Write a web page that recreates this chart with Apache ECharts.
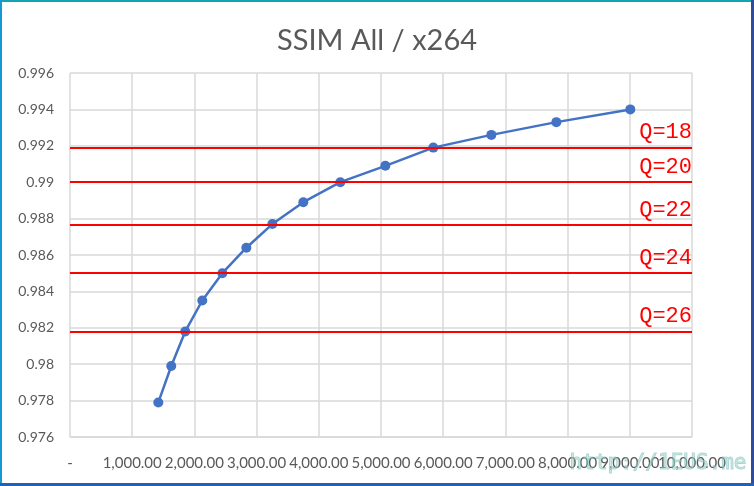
<!DOCTYPE html>
<html>
<head>
<meta charset="utf-8">
<script src="https://cdn.jsdelivr.net/npm/echarts@6/dist/echarts.min.js"></script>
<style>
html,body{margin:0;padding:0;background:#fff;}
#c{width:754px;height:486px;}
</style>
</head>
<body>
<div id="c"></div>
<script>
// Data
var bitrate = [1420, 1628, 1853, 2127, 2449, 2835, 3253, 3751, 4346, 5070, 5841, 6774, 7819, 9008];
var ssim = [0.9779, 0.9799, 0.9818, 0.9835, 0.9850, 0.9864, 0.9877, 0.9889, 0.9900, 0.9909, 0.9919, 0.9926, 0.9933, 0.9940];
var qLabels = ['Q=18', 'Q=20', 'Q=22', 'Q=24', 'Q=26'];
var qValues = [0.9919, 0.9900, 0.98765, 0.9850, 0.9818];
var titleText = 'SSIM All / x264';
var watermark = 'http://1EUS.me';

var pts = bitrate.map(function (b, i) { return [b, ssim[i]]; });
var chart = echarts.init(document.getElementById('c'));
var gray = '#595959';
var grid = '#d9d9d9';

function fmtX(v) {
  if (v === 0) return '-';
  return v.toLocaleString('en-US', { minimumFractionDigits: 2, maximumFractionDigits: 2 });
}
var xLabelStyle = { margin: 19, color: gray, fontFamily: 'Lato', fontSize: 15, hideOverlap: false };

chart.setOption({
  animation: false,
  backgroundColor: '#fff',
  title: {
    text: titleText, left: 'center', top: 21,
    textStyle: { fontFamily: 'Lato', fontWeight: 'normal', fontSize: 29, color: gray }
  },
  grid: { left: 70, right: 62, top: 73, bottom: 49 },
  xAxis: [{
    type: 'value', min: 0, max: 10000, interval: 1000, position: 'bottom',
    axisLine: { show: true, lineStyle: { color: grid, width: 1.5 } },
    axisTick: { show: false },
    splitLine: { show: true, lineStyle: { color: grid, width: 1.5 } },
    axisLabel: Object.assign({}, xLabelStyle, {
      showMinLabel: true, showMaxLabel: true,
      formatter: function (v) { return v === 9000 ? '' : fmtX(v); }
    })
  }, {
    type: 'value', min: 0, max: 10000, interval: 1000, position: 'bottom', offset: 0,
    axisLine: { show: false }, axisTick: { show: false }, splitLine: { show: false },
    axisLabel: Object.assign({}, xLabelStyle, {
      showMinLabel: false, showMaxLabel: false,
      formatter: function (v) { return v === 9000 ? fmtX(v) : ''; }
    })
  }],
  yAxis: {
    type: 'value', min: 0.976, max: 0.996, interval: 0.002,
    axisLine: { show: false },
    axisTick: { show: false },
    splitLine: { show: true, lineStyle: { color: grid, width: 1.5 } },
    axisLabel: {
      margin: 16, color: gray, fontFamily: 'Lato', fontSize: 14,
      formatter: function (v) { return String(+v.toFixed(3)); }
    }
  },
  series: [{
    type: 'line',
    xAxisIndex: 0,
    data: pts,
    symbol: 'circle', symbolSize: 10,
    lineStyle: { color: '#4472c4', width: 2.5 },
    itemStyle: { color: '#4472c4' },
    z: 3,
    markLine: {
      silent: true, symbol: 'none', precision: 6,
      lineStyle: { color: '#ff0000', width: 2, type: 'solid' },
      label: {
        show: true, position: 'insideEndTop', distance: [0, 4],
        color: '#ff0000', fontFamily: 'Liberation Mono', fontSize: 22,
        formatter: function (p) { return p.name; }
      },
      data: qValues.map(function (v, i) { return { name: qLabels[i], yAxis: v }; })
    }
  }],
  graphic: [
    { type: 'rect', shape: { x: 0, y: 0, width: 754, height: 2 }, style: { fill: '#14a3b3' }, z: 100 },
    { type: 'rect', shape: { x: 0, y: 0, width: 2, height: 486 }, style: { fill: '#1598d6' }, z: 100 },
    { type: 'rect', shape: { x: 751, y: 0, width: 3, height: 486 }, style: { fill: '#2e4b9c' }, z: 100 },
    { type: 'rect', shape: { x: 0, y: 483, width: 754, height: 3 }, style: { fill: '#1f63b8' }, z: 100 },
    {
      type: 'text', right: 7, bottom: 11, z: 101,
      style: {
        text: watermark, fontFamily: 'DejaVu Sans Mono', fontSize: 21,
        fill: 'rgba(160,220,195,0.5)', stroke: 'rgba(90,160,170,0.45)', lineWidth: 1
      }
    }
  ]
});
</script>
</body>
</html>
